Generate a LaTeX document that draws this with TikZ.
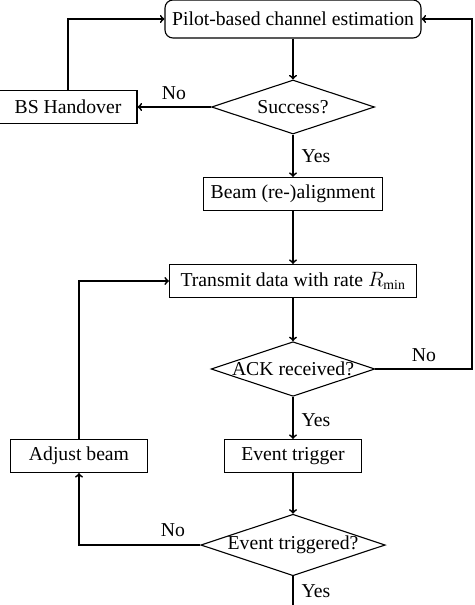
\documentclass[tikz,border=0pt]{standalone}
\usepackage{fontspec}
\setmainfont{Liberation Serif}
\usetikzlibrary{shapes.geometric}
\begin{document}
\begin{tikzpicture}[x=1pt,y=-1pt,
  every node/.style={font=\fontsize{19.7}{23}\selectfont},
  procbox/.style={draw,line width=1.1pt,inner sep=0pt,anchor=center},
  decbox/.style={draw,line width=1.1pt,shape=diamond,aspect=3,inner sep=0pt,anchor=center},
  flow/.style={line width=1.8pt,->},
  plain/.style={line width=1.8pt},
  lbl/.style={inner sep=0pt,anchor=center}]
\useasboundingbox (0,0) rectangle (474,605);
\node[procbox,rounded corners=8pt,minimum width=256pt,minimum height=38pt] (pilot) at (293,19) {Pilot-based channel estimation};
\node[decbox,minimum width=163pt,minimum height=54pt] (succ) at (293,107) {Success?};
\node[procbox,minimum width=138pt,minimum height=33pt] (bs) at (68,107) {BS Handover};
\node[procbox,minimum width=179pt,minimum height=33pt] (beam) at (293,194) {Beam (re-)alignment};
\node[procbox,minimum width=247pt,minimum height=33pt] (tx) at (293,281) {Transmit data with rate $R_{\min}$};
\node[decbox,minimum width=163pt,minimum height=54pt] (ack) at (293,369) {ACK received?};
\node[procbox,minimum width=137pt,minimum height=33pt] (evt) at (293,456) {Event trigger};
\node[procbox,minimum width=137pt,minimum height=33pt] (adj) at (79,456) {Adjust beam};
\node[decbox,minimum width=179pt,minimum height=59pt] (evq) at (293,545) {Event triggered?};
\coordinate (rtop) at (472,19);
\coordinate (rack) at (472,369);
\coordinate (bot) at (293,606);
\draw[flow] (pilot) -- (succ);
\draw[flow] (succ.west) -- (bs.east);
\draw[flow] (bs.north) |- (pilot.west);
\draw[flow] (succ) -- (beam);
\draw[flow] (beam) -- (tx);
\draw[flow] (tx) -- (ack);
\draw[flow] (ack.east) -- (rack) -- (rtop) -- (pilot.east);
\draw[flow] (ack) -- (evt);
\draw[flow] (adj.north) |- (tx.west);
\draw[flow] (evt) -- (evq);
\draw[flow] (evq.west) -| (adj.south);
\draw[plain] (evq.south) -- (bot);
\node[lbl] (l1) at (174,93) {No};
\node[lbl] (l2) at (316,156) {Yes};
\node[lbl] (l3) at (424,355) {No};
\node[lbl] (l4) at (316,420) {Yes};
\node[lbl] (l5) at (173,530) {No};
\node[lbl] (l6) at (316,591) {Yes};
\end{tikzpicture}
\end{document}
